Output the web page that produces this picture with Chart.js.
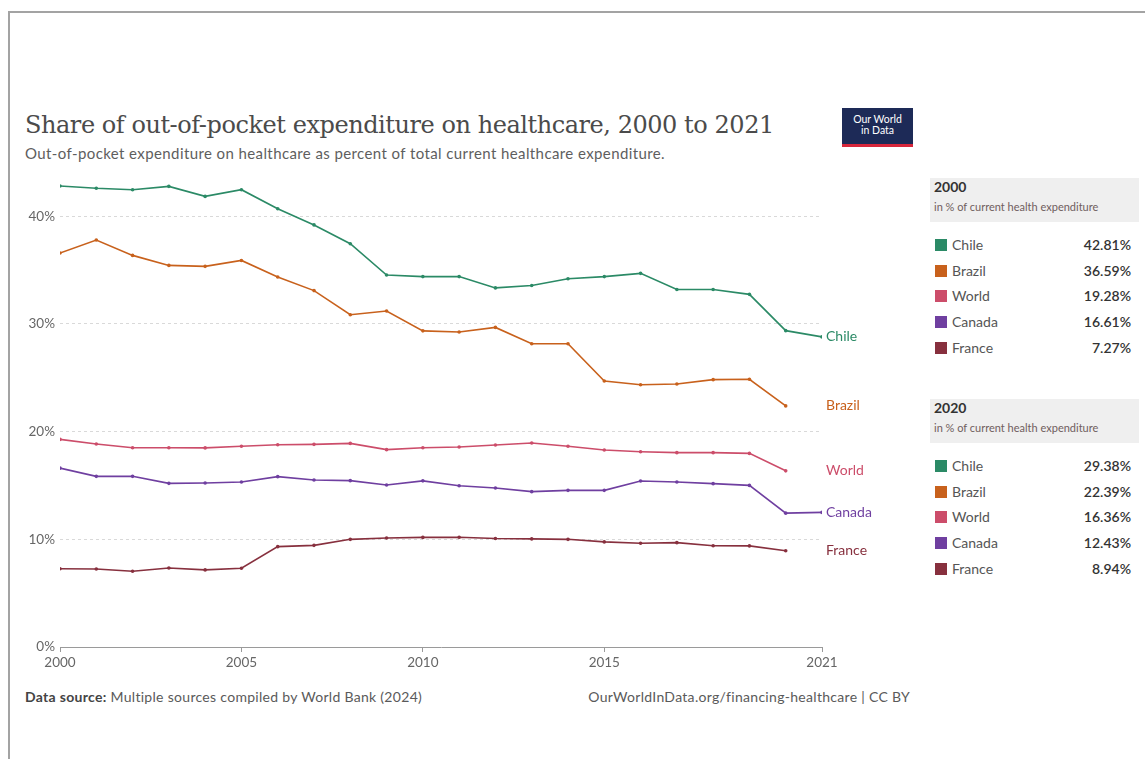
<!DOCTYPE html>
<html>
<head>
<meta charset="utf-8">
<script src="https://cdn.jsdelivr.net/npm/chart.js@4.4.1/dist/chart.umd.min.js"></script>
<style>
  html, body { margin: 0; padding: 0; background: #fff; width: 1145px; height: 759px; overflow: hidden; font-family: Lato, "Open Sans", sans-serif; }
  #frame { position: absolute; left: 8px; top: 11px; width: 1140px; height: 760px; border-top: 2px solid #a3a3a3; border-left: 2px solid #a3a3a3; box-sizing: border-box; }
  #title { position: absolute; left: 25px; top: 111px; font-family: "DejaVu Serif", "Liberation Serif", serif; font-size: 24px; color: #4b4b4b; white-space: nowrap; letter-spacing: -0.45px; }
  #subtitle { position: absolute; left: 25px; top: 144px; font-size: 15px; letter-spacing: 0.4px; color: #5e5e5e; white-space: nowrap; }
  #logo { position: absolute; left: 842px; top: 108px; width: 71px; height: 39px; background: #1d2a57; color: #fff; font-size: 10.5px; line-height: 11px; text-align: center; box-sizing: border-box; padding-top: 6px; border-bottom: 3px solid #d7263b; }
  #wrap { position: absolute; left: 0; top: 170px; width: 925px; height: 507px; }
  .legend { position: absolute; left: 930px; width: 209px; }
  .lhead { background: #efefef; padding: 0 0 8px 4px; height: 36px; }
  .lyear { font-weight: bold; font-size: 14px; color: #333; line-height: 18px; }
  .lsub { font-size: 11px; color: #6f5e5e; line-height: 22px; }
  .lrow { position: relative; height: 25.7px; font-size: 14px; color: #555; }
  .sw { position: absolute; left: 5px; top: 4px; width: 12px; height: 12px; }
  .nm { position: absolute; left: 22px; top: 0; line-height: 20px; }
  .val { position: absolute; right: 8px; top: 0; line-height: 20px; color: #333; font-weight: 600; }
  #src { position: absolute; left: 25px; top: 688px; font-size: 14px; letter-spacing: 0.3px; color: #5a5a5a; white-space: nowrap; }
  #src b { color: #444; }
  #url { position: absolute; right: 235px; top: 688px; font-size: 14px; letter-spacing: 0.3px; color: #5a5a5a; white-space: nowrap; }
</style>
</head>
<body>
<div id="frame"></div>
<div id="title">Share of out-of-pocket expenditure on healthcare, 2000 to 2021</div>
<div id="subtitle">Out-of-pocket expenditure on healthcare as percent of total current healthcare expenditure.</div>
<div id="logo">Our World<br>in Data</div>
<div id="wrap"><canvas id="c"></canvas></div>

<div class="legend" style="top:178px;" id="leg1"></div>
<div class="legend" style="top:399px;" id="leg2"></div>

<div id="src"><b>Data source:</b> Multiple sources compiled by World Bank (2024)</div>
<div id="url">OurWorldInData.org/financing-healthcare | CC BY</div>

<script>
const years = [2000,2001,2002,2003,2004,2005,2006,2007,2008,2009,2010,2011,2012,2013,2014,2015,2016,2017,2018,2019,2020,2021];
const chile  = [42.81,42.6,42.47,42.78,41.85,42.47,40.7,39.2,37.45,34.55,34.4,34.4,33.35,33.57,34.2,34.4,34.7,33.2,33.2,32.75,29.38,28.8];
const brazil = [36.59,37.8,36.37,35.44,35.35,35.9,34.36,33.1,30.86,31.2,29.36,29.25,29.68,28.17,28.17,24.7,24.36,24.43,24.83,24.86,22.39,null];
const world  = [19.28,18.86,18.5,18.5,18.49,18.64,18.79,18.82,18.91,18.33,18.5,18.58,18.76,18.95,18.64,18.3,18.14,18.05,18.05,17.98,16.36,null];
const canada = [16.61,15.85,15.85,15.2,15.23,15.33,15.82,15.51,15.45,15.05,15.43,14.98,14.77,14.43,14.55,14.55,15.42,15.33,15.17,15.01,12.43,12.5];
const france = [7.27,7.25,7.03,7.34,7.16,7.31,9.32,9.44,10.0,10.13,10.18,10.19,10.07,10.04,10.0,9.76,9.63,9.69,9.41,9.39,8.94,null];
const yTicks = [0,10,20,30,40];
const xTicks = [2000,2005,2010,2015,2021];

const names  = ['Chile','Brazil','World','Canada','France'];
const seriesValues = [chile, brazil, world, canada, france];
const colors = ['#2b8a66','#c8611c','#cc4d6a','#6f3fa0','#87303e'];

function buildLegend(id, year) {
  const idx = years.indexOf(year);
  let h = '<div class="lhead"><div class="lyear">' + year + '</div><div class="lsub">in % of current health expenditure</div></div><div style="height:13px"></div>';
  names.forEach((n, i) => {
    h += '<div class="lrow"><div class="sw" style="background:' + colors[i] + '"></div><div class="nm">' + n + '</div><div class="val">' + seriesValues[i][idx].toFixed(2) + '%</div></div>';
  });
  document.getElementById(id).innerHTML = h;
}
buildLegend('leg1', 2000);
buildLegend('leg2', 2020);

const endLabels = {
  id: 'endLabels',
  afterDatasetsDraw(chart) {
    const ctx = chart.ctx;
    const xs = chart.scales.x, ys = chart.scales.y;
    ctx.save();
    ctx.font = '14px Lato, sans-serif';
    ctx.textBaseline = 'middle';
    ctx.textAlign = 'left';
    chart.data.datasets.forEach((ds) => {
      let last = null;
      ds.data.forEach(p => { if (p.y !== null) last = p; });
      ctx.fillStyle = ds.borderColor;
      ctx.fillText(ds.label, xs.getPixelForValue(2021) + 4, ys.getPixelForValue(last.y));
    });
    ctx.restore();
  }
};

new Chart(document.getElementById('c'), {
  type: 'line',
  data: {
    datasets: names.map((n, i) => ({
      label: n,
      data: years.map((y, j) => ({ x: y, y: seriesValues[i][j] })),
      borderColor: colors[i],
      backgroundColor: colors[i],
      borderWidth: 1.6,
      pointRadius: 1.8,
      pointBorderWidth: 0,
      tension: 0,
      spanGaps: false
    }))
  },
  options: {
    responsive: true,
    maintainAspectRatio: false,
    animation: false,
    layout: { padding: { top: 14, right: 103, left: 0, bottom: 0 } },
    plugins: { legend: { display: false }, tooltip: { enabled: false } },
    scales: {
      x: {
        type: 'linear', min: 2000, max: 2021,
        afterBuildTicks: (ax) => { ax.ticks = xTicks.map(v => ({ value: v })); },
        afterFit: (ax) => { ax.height = 30; },
        grid: { display: true, drawOnChartArea: false, drawTicks: true, tickLength: 5, color: '#9a9a9a' },
        border: { display: true, color: '#9a9a9a', width: 1 },
        ticks: { color: '#666', font: { family: 'Lato', size: 13.5 }, padding: 3, maxRotation: 0, callback: v => String(v) }
      },
      y: {
        min: 0, max: 43,
        afterBuildTicks: (ax) => { ax.ticks = yTicks.map(v => ({ value: v })); },
        afterFit: (ax) => { ax.width = 60; },
        grid: { color: (c) => c.tick.value === 0 ? 'rgba(0,0,0,0)' : '#d9d9d9', drawTicks: false },
        border: { display: false, dash: [3, 3] },
        ticks: { color: '#666', font: { family: 'Lato', size: 13.5 }, padding: 5, callback: v => v + '%' }
      }
    }
  },
  plugins: [endLabels]
});
</script>
</body>
</html>
